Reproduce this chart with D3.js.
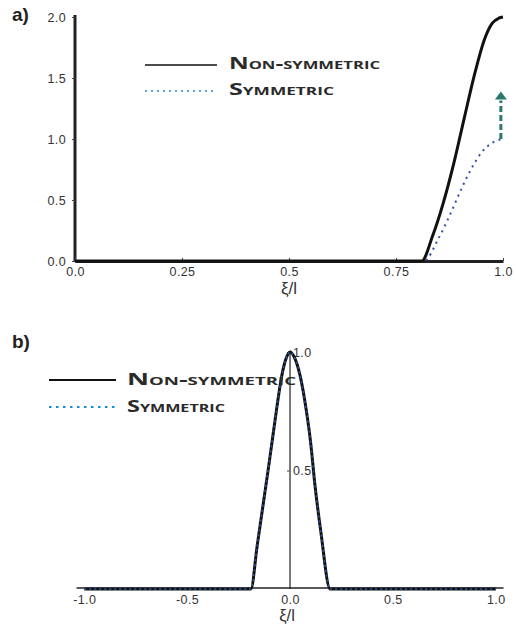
<!DOCTYPE html>
<html><head><meta charset="utf-8">
<script src="https://cdn.jsdelivr.net/npm/d3@7"></script>
<style>
html,body{margin:0;padding:0;background:#fff;}
svg{display:block;}
.tick text{font-family:"Liberation Sans",Arial,sans-serif;fill:#333;letter-spacing:0.4px;}
.leg{font-family:"Open Sans","DejaVu Sans",sans-serif;font-weight:700;font-variant:small-caps;fill:#2a2a2a;}
</style></head>
<body>
<script>
// ---- Panel a data ----
const xiA_non = [0, 0.5, 0.81, 0.835, 0.86, 0.885, 0.91, 0.935, 0.955, 0.975, 0.99, 1.0];
const valA_non = [0, 0, 0, 0.2, 0.47, 0.8, 1.18, 1.55, 1.80, 1.95, 1.99, 2.0];
const xiA_sym = [0, 0.5, 0.815, 0.85, 0.875, 0.9, 0.925, 0.95, 0.975, 1.0];
const valA_sym = [0, 0, 0, 0.19, 0.37, 0.57, 0.75, 0.89, 0.97, 1.0];
const xTicksA = [0, 0.25, 0.5, 0.75, 1.0];
const xTickLabelsA = ["0.0", "0.25", "0.5", "0.75", "1.0"];
const yTicksA = [0, 0.5, 1.0, 1.5, 2.0];
const yTickLabelsA = ["0.0", "0.5", "1.0", "1.5", "2.0"];
const arrowA = [[0.995, 1.0], [0.995, 1.39]];

// ---- Panel b data ----
const xiB = [-1.0, -0.5, -0.19, -0.16, -0.125, -0.105, -0.089, -0.065, -0.04, -0.02, 0, 0.02, 0.049, 0.078, 0.1, 0.121, 0.15, 0.195, 0.5, 1.0];
const valB_non = [0, 0, 0, 0.18, 0.39, 0.51, 0.61, 0.76, 0.90, 0.97, 1.0, 0.98, 0.90, 0.76, 0.62, 0.44, 0.24, 0, 0, 0];
const valB_sym = [0, 0, 0, 0.18, 0.39, 0.51, 0.61, 0.76, 0.90, 0.97, 1.0, 0.98, 0.90, 0.76, 0.62, 0.44, 0.24, 0, 0, 0];
const xTicksB = [-1.0, -0.5, 0, 0.5, 1.0];
const xTickLabelsB = ["-1.0", "-0.5", "0.0", "0.5", "1.0"];
const yTicksB = [0.5, 1.0];
const yTickLabelsB = ["0.5", "1.0"];

const seriesNames = ["Non-symmetric", "Symmetric"];

const svg = d3.select("body").append("svg").attr("width", 516).attr("height", 631);

// ================= Panel a =================
const xA = d3.scaleLinear().domain([0, 1]).range([75, 503]);
const yA = d3.scaleLinear().domain([0, 2]).range([261, 17]);

svg.append("text").attr("x", 12).attr("y", 21).text("a)")
  .attr("font-family", "Liberation Sans, Arial, sans-serif").attr("font-weight", "bold")
  .attr("font-size", 19).attr("fill", "#222");

const gyA = svg.append("g").attr("transform", `translate(${xA(0)},0)`)
  .call(d3.axisLeft(yA).tickValues(yTicksA).tickFormat((d, i) => yTickLabelsA[i]).tickSize(3).tickPadding(6));
gyA.select(".domain").attr("stroke", "#222").attr("stroke-width", 3).attr("d", `M0,${yA(0)+1}V15`);
gyA.selectAll(".tick line").attr("stroke", "#444");
gyA.selectAll(".tick text").attr("font-size", 12.5);

const gxA = svg.append("g").attr("transform", `translate(0,${yA(0)})`)
  .call(d3.axisBottom(xA).tickValues(xTicksA).tickFormat((d, i) => xTickLabelsA[i]).tickSizeInner(-3).tickSizeOuter(0).tickPadding(6));
gxA.select(".domain").attr("stroke", "#222").attr("stroke-width", 3);
gxA.selectAll(".tick line").attr("stroke", "#444");
gxA.selectAll(".tick text").attr("font-size", 12.5);

svg.append("text").attr("x", xA(0.5)).attr("y", 294).attr("text-anchor", "middle")
  .attr("font-family", "Liberation Sans, Arial, sans-serif").attr("font-size", 17).attr("fill", "#333").text("ξ/l");

const lineA = d3.line().x(d => xA(d[0])).y(d => yA(d[1])).curve(d3.curveMonotoneX);
svg.append("path").datum(xiA_sym.map((x, i) => [x, valA_sym[i]]))
  .attr("d", lineA).attr("fill", "none").attr("stroke", "#3550a8").attr("stroke-width", 2).attr("stroke-dasharray", "2,4.5");
svg.append("path").datum(xiA_non.map((x, i) => [x, valA_non[i]]))
  .attr("d", lineA).attr("fill", "none").attr("stroke", "#111").attr("stroke-width", 3);

// arrow
const ax = xA(arrowA[0][0]), ay0 = yA(arrowA[0][1]), ay1 = yA(arrowA[1][1]);
svg.append("line").attr("x1", ax).attr("x2", ax).attr("y1", ay0).attr("y2", ay1 + 9)
  .attr("stroke", "#2b786e").attr("stroke-width", 3).attr("stroke-dasharray", "6,3");
svg.append("path").attr("d", `M${ax},${ay1}L${ax+6},${ay1+8}L${ax-6},${ay1+8}Z`).attr("fill", "#2b786e");

// legend a
svg.append("line").attr("x1", 145).attr("x2", 217).attr("y1", 65).attr("y2", 65).attr("stroke", "#111").attr("stroke-width", 1.3);
svg.append("line").attr("x1", 145).attr("x2", 217).attr("y1", 91).attr("y2", 91).attr("stroke", "#2a88d6").attr("stroke-width", 1.3).attr("stroke-dasharray", "2,4");
svg.append("text").attr("class", "leg").attr("x", 229).attr("y", 69).attr("font-size", 16)
  .attr("textLength", 151).attr("lengthAdjust", "spacingAndGlyphs").text(seriesNames[0]);
svg.append("text").attr("class", "leg").attr("x", 229).attr("y", 95).attr("font-size", 16)
  .attr("textLength", 105).attr("lengthAdjust", "spacingAndGlyphs").text(seriesNames[1]);

// ================= Panel b =================
const xB = d3.scaleLinear().domain([-1.04, 1.035]).range([76, 503]);
const yB = d3.scaleLinear().domain([0, 1]).range([589, 352]);

svg.append("text").attr("x", 12).attr("y", 348).text("b)")
  .attr("font-family", "Liberation Sans, Arial, sans-serif").attr("font-weight", "bold")
  .attr("font-size", 19).attr("fill", "#222");

const gxB = svg.append("g").attr("transform", `translate(0,${yB(0) - 1.5})`)
  .call(d3.axisBottom(xB).tickValues(xTicksB).tickFormat((d, i) => xTickLabelsB[i]).tickSize(0).tickPadding(8));
gxB.select(".domain").attr("stroke", "#222").attr("stroke-width", 1.5);
gxB.selectAll(".tick text").attr("font-size", 12.5);

const gyB = svg.append("g").attr("transform", `translate(${xB(0)},0)`)
  .call(d3.axisRight(yB).tickValues(yTicksB).tickFormat((d, i) => yTickLabelsB[i]).tickSizeInner(-3).tickSizeOuter(0).tickPadding(3));
gyB.select(".domain").attr("stroke", "#222").attr("stroke-width", 1.2).attr("d", `M0,${yB(0)}V${yB(1)}`);
gyB.selectAll(".tick line").attr("stroke", "#444");
gyB.selectAll(".tick text").attr("font-size", 12.5);

svg.append("text").attr("x", 287).attr("y", 621).attr("text-anchor", "middle")
  .attr("font-family", "Liberation Sans, Arial, sans-serif").attr("font-size", 16.5).attr("fill", "#333").text("ξ/l");

const lineB = d3.line().x(d => xB(d[0])).y(d => yB(d[1])).curve(d3.curveMonotoneX);
svg.append("path").datum(xiB.map((x, i) => [x, valB_non[i]]))
  .attr("d", lineB).attr("fill", "none").attr("stroke", "#111").attr("stroke-width", 3);
svg.append("path").datum(xiB.map((x, i) => [x, valB_sym[i]]))
  .attr("d", lineB).attr("fill", "none").attr("stroke", "#2e55a8").attr("stroke-width", 1.6).attr("stroke-dasharray", "2,3");

// legend b
svg.append("line").attr("x1", 49).attr("x2", 116).attr("y1", 380).attr("y2", 380).attr("stroke", "#111").attr("stroke-width", 2);
svg.append("line").attr("x1", 49).attr("x2", 116).attr("y1", 407).attr("y2", 407).attr("stroke", "#1a8ad6").attr("stroke-width", 2.2).attr("stroke-dasharray", "2.5,4.5");
svg.append("text").attr("class", "leg").attr("x", 127).attr("y", 385).attr("font-size", 16)
  .attr("textLength", 169).attr("lengthAdjust", "spacingAndGlyphs").text(seriesNames[0]);
svg.append("text").attr("class", "leg").attr("x", 127).attr("y", 412).attr("font-size", 16)
  .attr("textLength", 98).attr("lengthAdjust", "spacingAndGlyphs").text(seriesNames[1]);
</script>
</body></html>
